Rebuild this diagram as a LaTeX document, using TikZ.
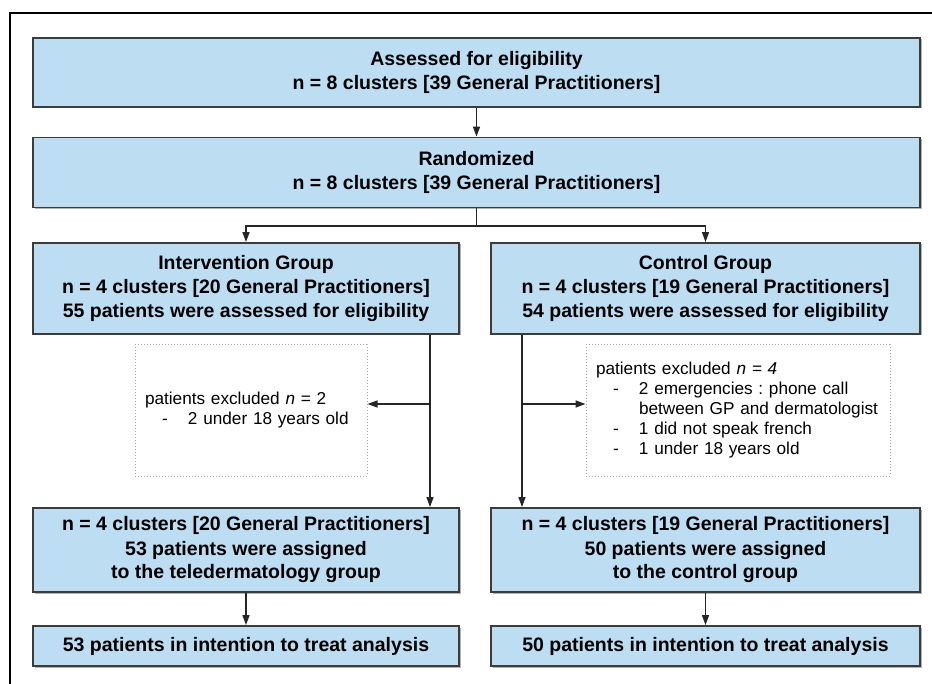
\documentclass[tikz,border=0pt]{standalone}
\usepackage{fontspec}
\setmainfont{Liberation Sans}
\usetikzlibrary{arrows.meta,shadows}

\definecolor{boxblue}{RGB}{189,221,243}
\definecolor{boxline}{RGB}{60,60,60}

\tikzset{
  bluebox/.style={draw=boxline, line width=1.8pt, fill=boxblue, inner sep=0pt,
    drop shadow={shadow xshift=1.5pt, shadow yshift=-1.5pt, fill=black!30, opacity=1},
    align=center, font=\bfseries\fontsize{19.5}{24}\selectfont},
  exclbox/.style={draw=gray!70, dotted, line width=1pt, inner xsep=10pt, inner ysep=0pt,
    align=left, font=\frenchspacing\fontsize{17.2}{20}\selectfont},
  arr/.style={-{Triangle[length=10pt,width=7pt]}, line width=1.5pt, draw=black!85}
}
\newcommand{\exitem}{\makebox[43pt][l]{\hspace*{17pt}-}}

\begin{document}
\begin{tikzpicture}[x=1pt,y=-1pt]
\useasboundingbox (0,0) rectangle (932,684);
\draw[line width=2.5pt] (932,13) -- (10,13) -- (10,684);

\node[bluebox, minimum width=887, minimum height=69] (assess) at (476.5,72.5)
  {Assessed for eligibility\\n = 8 clusters [39 General Practitioners]};
\node[bluebox, minimum width=887, minimum height=70] (random) at (476.5,172.5)
  {Randomized\\n = 8 clusters [39 General Practitioners]};
\node[bluebox, minimum width=426, minimum height=91] (interv) at (246,288.5)
  {Intervention Group\\n = 4 clusters [20 General Practitioners]\\55 patients were assessed for eligibility};
\node[bluebox, minimum width=429, minimum height=91] (control) at (705.5,288.5)
  {Control Group\\n = 4 clusters [19 General Practitioners]\\54 patients were assessed for eligibility};

\node[exclbox, minimum width=232, minimum height=131, text width=212] (exclL) at (251,410.5)
  {patients excluded \textit{n} = 2\\\exitem 2 under 18 years old};
\node[exclbox, minimum width=304, minimum height=131, text width=284] (exclR) at (738,410.5)
  {patients excluded \textit{n = 4}\\\exitem 2 emergencies : phone call\\\hspace*{43pt}\mbox{between GP and dermatologist}\\\exitem 1 did not speak french\\\exitem 1 under 18 years old};

\node[bluebox, minimum width=426, minimum height=84] (assignL) at (246,550)
  {n = 4 clusters [20 General Practitioners]\\53 patients were assigned\\to the teledermatology group};
\node[bluebox, minimum width=429, minimum height=84] (assignR) at (705.5,550)
  {n = 4 clusters [19 General Practitioners]\\50 patients were assigned\\to the control group};

\node[bluebox, minimum width=426, minimum height=40] (ittL) at (246,646)
  {53 patients in intention to treat analysis};
\node[bluebox, minimum width=429, minimum height=40] (ittR) at (705.5,646)
  {50 patients in intention to treat analysis};

\coordinate (split) at (476.5,226);
\coordinate (trunkL) at (430,404);
\coordinate (trunkR) at (522,404);

\draw[arr] (assess) -- (random);
\draw[line width=1.5pt, draw=black!85] (random.south) -- (split);
\draw[arr] (split) -| (interv.north);
\draw[arr] (split) -| (control.north);
\draw[arr] (interv.south -| trunkL) -- (assignL.north -| trunkL);
\draw[arr] (trunkL) -- (exclL.east |- trunkL);
\draw[arr] (control.south -| trunkR) -- (assignR.north -| trunkR);
\draw[arr] (trunkR) -- (exclR.west |- trunkR);
\draw[arr] (assignL) -- (ittL);
\draw[arr] (assignR) -- (ittR);
\end{tikzpicture}
\end{document}
